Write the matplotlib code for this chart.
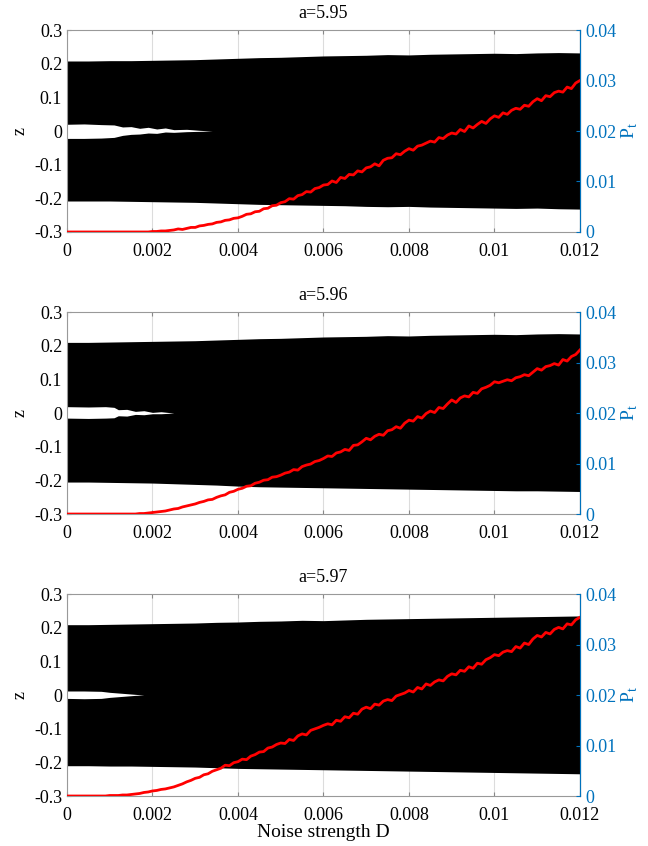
import numpy as np
import matplotlib
matplotlib.use("Agg")
import matplotlib.pyplot as plt

plt.rcParams['font.family'] = ['Liberation Serif', 'DejaVu Serif']
plt.rcParams['mathtext.fontset'] = 'custom'
plt.rcParams['mathtext.rm'] = 'Liberation Serif'
plt.rcParams['axes.unicode_minus'] = False

# panel titles
a_vals = ['a=5.95', 'a=5.96', 'a=5.97']

# noise grid for the red P_t curves (step 0.0001)
d_grid = np.round(np.arange(0, 0.012001, 0.0001), 4)

# P_t
p_t = [
    [0] * 20 +
    [0.0001, 0.0001, 0.0002, 0.0002, 0.0003, 0.0004, 0.0006, 0.0005, 0.0007, 0.0009,
     0.0009, 0.0012, 0.0013, 0.0015, 0.0016, 0.0019, 0.0020, 0.0023, 0.0024, 0.0027,
     0.0028, 0.0031, 0.0035, 0.0036, 0.0040, 0.0041, 0.0046, 0.0047, 0.0052, 0.0053,
     0.0058, 0.0060, 0.0066, 0.0065, 0.0072, 0.0074, 0.0080, 0.0079, 0.0086, 0.0088,
     0.0093, 0.0094, 0.0101, 0.0098, 0.0108, 0.0106, 0.0114, 0.0113, 0.0121, 0.0119,
     0.0127, 0.0129, 0.0135, 0.0131, 0.0142, 0.0146, 0.0147, 0.0155, 0.0153, 0.0160,
     0.0165, 0.0162, 0.0170, 0.0172, 0.0176, 0.0180, 0.0178, 0.0187, 0.0185, 0.0192,
     0.0196, 0.0194, 0.0203, 0.0199, 0.0210, 0.0206, 0.0213, 0.0219, 0.0215, 0.0224,
     0.0230, 0.0227, 0.0236, 0.0233, 0.0241, 0.0245, 0.0243, 0.0251, 0.0249, 0.0258,
     0.0264, 0.0260, 0.0270, 0.0268, 0.0276, 0.0279, 0.0277, 0.0287, 0.0284, 0.0295,
     0.0300],
    [0] * 17 +
    [0.0001, 0.0001, 0.0002,
     0.0003, 0.0004, 0.0005, 0.0006, 0.0008, 0.0010, 0.0011, 0.0014, 0.0016, 0.0018,
     0.0020, 0.0023, 0.0025, 0.0028, 0.0029, 0.0033, 0.0036, 0.0038, 0.0043, 0.0045,
     0.0049, 0.0051, 0.0055, 0.0056, 0.0061, 0.0063, 0.0067, 0.0068, 0.0073, 0.0074,
     0.0077, 0.0081, 0.0083, 0.0088, 0.0087, 0.0094, 0.0097, 0.0099, 0.0104, 0.0106,
     0.0110, 0.0115, 0.0114, 0.0121, 0.0123, 0.0128, 0.0126, 0.0136, 0.0137, 0.0143,
     0.0150, 0.0147, 0.0154, 0.0158, 0.0156, 0.0165, 0.0167, 0.0173, 0.0170, 0.0180,
     0.0186, 0.0184, 0.0193, 0.0190, 0.0199, 0.0204, 0.0201, 0.0211, 0.0209, 0.0218,
     0.0226, 0.0221, 0.0230, 0.0234, 0.0232, 0.0241, 0.0239, 0.0248, 0.0251, 0.0255,
     0.0262, 0.0260, 0.0263, 0.0266, 0.0264, 0.0270, 0.0272, 0.0276, 0.0274, 0.0281,
     0.0288, 0.0285, 0.0292, 0.0294, 0.0298, 0.0295, 0.0306, 0.0303, 0.0312, 0.0316,
     0.0325],
    [0] * 10 +
    [0.0001, 0.0001, 0.0001, 0.0002, 0.0002, 0.0003, 0.0004, 0.0005, 0.0007, 0.0008,
     0.0010, 0.0011, 0.0013, 0.0014, 0.0016, 0.0018, 0.0021, 0.0024, 0.0028, 0.0031,
     0.0035, 0.0037, 0.0042, 0.0044, 0.0049, 0.0052, 0.0055, 0.0061, 0.0060, 0.0066,
     0.0068, 0.0073, 0.0072, 0.0079, 0.0082, 0.0087, 0.0088, 0.0095, 0.0097, 0.0102,
     0.0105, 0.0104, 0.0112, 0.0110, 0.0119, 0.0123, 0.0121, 0.0130, 0.0133, 0.0136,
     0.0140, 0.0143, 0.0141, 0.0150, 0.0148, 0.0157, 0.0155, 0.0164, 0.0162, 0.0172,
     0.0176, 0.0173, 0.0182, 0.0180, 0.0188, 0.0191, 0.0189, 0.0198, 0.0201, 0.0204,
     0.0209, 0.0206, 0.0215, 0.0212, 0.0222, 0.0219, 0.0226, 0.0230, 0.0228, 0.0237,
     0.0242, 0.0240, 0.0249, 0.0247, 0.0256, 0.0253, 0.0263, 0.0261, 0.0270, 0.0274,
     0.0280, 0.0278, 0.0285, 0.0288, 0.0286, 0.0296, 0.0293, 0.0303, 0.0300, 0.0311,
     0.0318, 0.0315, 0.0324, 0.0321, 0.0330, 0.0334, 0.0331, 0.0341, 0.0339, 0.0349,
     0.0354],
]

# outer edges of the black z band (step 0.0005)
band_d = np.round(np.arange(0, 0.01201, 0.0005), 4)
band_top = [
    [0.208, 0.208, 0.209, 0.209, 0.210, 0.211, 0.212, 0.214, 0.216, 0.218, 0.219, 0.221, 0.223,
     0.224, 0.225, 0.227, 0.226, 0.228, 0.229, 0.230, 0.231, 0.230, 0.232, 0.233, 0.232],
    [0.210, 0.210, 0.211, 0.212, 0.213, 0.214, 0.215, 0.217, 0.219, 0.221, 0.222, 0.224, 0.226,
     0.227, 0.228, 0.230, 0.229, 0.231, 0.232, 0.233, 0.234, 0.233, 0.235, 0.236, 0.235],
    [0.209, 0.209, 0.210, 0.211, 0.212, 0.213, 0.214, 0.216, 0.217, 0.219, 0.220, 0.222, 0.221,
     0.223, 0.225, 0.226, 0.227, 0.228, 0.229, 0.230, 0.231, 0.232, 0.233, 0.234, 0.235],
]
band_bot = [
    [-0.208, -0.208, -0.208, -0.209, -0.210, -0.211, -0.212, -0.214, -0.216, -0.218, -0.219, -0.220,
     -0.221, -0.222, -0.224, -0.225, -0.224, -0.226, -0.227, -0.228, -0.229, -0.230, -0.229, -0.231, -0.232],
    [-0.205, -0.205, -0.206, -0.207, -0.208, -0.210, -0.212, -0.214, -0.217, -0.219, -0.220, -0.221,
     -0.222, -0.223, -0.224, -0.225, -0.226, -0.227, -0.228, -0.229, -0.230, -0.231, -0.231, -0.232, -0.233],
    [-0.210, -0.210, -0.211, -0.211, -0.212, -0.213, -0.214, -0.216, -0.218, -0.219, -0.220, -0.221,
     -0.222, -0.223, -0.224, -0.225, -0.226, -0.227, -0.228, -0.229, -0.230, -0.231, -0.232, -0.233, -0.234],
]

# white gap around z=0 at small noise
gap_d = [
    [0, 0.0004, 0.0008, 0.0011, 0.0013, 0.0015, 0.0017, 0.0019, 0.0021, 0.0023, 0.0025, 0.0028, 0.0031, 0.0034],
    [0, 0.0005, 0.0009, 0.0011, 0.0012, 0.0014, 0.0016, 0.0018, 0.0020, 0.0022, 0.0025],
    [0, 0.0004, 0.0008, 0.0010, 0.0012, 0.0014, 0.0016, 0.0018],
]
gap_top = [
    [0.020, 0.021, 0.019, 0.018, 0.012, 0.013, 0.008, 0.011, 0.006, 0.009, 0.004, 0.005, 0.002, 0],
    [0.019, 0.018, 0.019, 0.017, 0.010, 0.011, 0.005, 0.007, 0.002, 0.004, 0],
    [0.012, 0.012, 0.011, 0.008, 0.006, 0.004, 0.002, 0],
]
gap_bot = [
    [-0.022, -0.022, -0.021, -0.019, -0.013, -0.010, -0.009, -0.006, -0.007, -0.003, -0.004, -0.002, -0.001, 0],
    [-0.015, -0.016, -0.015, -0.014, -0.008, -0.009, -0.004, -0.005, -0.002, -0.002, 0],
    [-0.010, -0.011, -0.010, -0.007, -0.005, -0.003, -0.001, 0],
]

x_ticks = [0, 0.002, 0.004, 0.006, 0.008, 0.01, 0.012]
x_labels = ['0', '0.002', '0.004', '0.006', '0.008', '0.01', '0.012']
z_ticks = [-0.3, -0.2, -0.1, 0, 0.1, 0.2, 0.3]
z_labels = ['-0.3', '-0.2', '-0.1', '0', '0.1', '0.2', '0.3']
p_ticks = [0, 0.01, 0.02, 0.03, 0.04]
p_labels = ['0', '0.01', '0.02', '0.03', '0.04']

blue = (0, 0.447, 0.741)
fs = 13

fig = plt.figure(figsize=(6.48, 8.46), dpi=100)
bottoms = [0.7258, 0.3924, 0.0591]
height = 0.2387

for i in range(3):
    ax1 = fig.add_axes([0.1034, bottoms[i], 0.7916, height])
    ax1.set_axisbelow(True)
    ax1.grid(axis='x', color='#dcdcdc', lw=0.8)
    ax1.fill_between(band_d, band_bot[i], band_top[i], color='black', lw=0)
    ax1.fill_between(gap_d[i], gap_bot[i], gap_top[i], color='white', lw=0)
    ax1.set_xlim(0, 0.012)
    ax1.set_ylim(-0.3, 0.3)
    ax1.set_xticks(x_ticks)
    ax1.set_xticklabels(x_labels)
    ax1.set_yticks(z_ticks)
    ax1.set_yticklabels(z_labels)
    ax1.tick_params(direction='in', length=3, labelsize=fs, color='#888888', top=True)
    ax1.tick_params(axis='x', pad=8)
    ax1.set_ylabel('z', fontsize=fs, labelpad=4)
    ax1.set_title(a_vals[i], fontsize=fs, pad=9)
    for s in ['left', 'top', 'bottom']:
        ax1.spines[s].set_color('#999999')
        ax1.spines[s].set_linewidth(0.8)

    ax2 = ax1.twinx()
    ax2.plot(d_grid, p_t[i], color='red', lw=2.0)
    ax2.set_ylim(0, 0.04)
    ax2.set_yticks(p_ticks)
    ax2.set_yticklabels(p_labels)
    ax2.tick_params(direction='in', length=3, labelsize=fs, colors=blue, pad=4)
    ax2.spines['right'].set_color(blue)
    ax2.spines['right'].set_linewidth(0.8)
    for s in ['left', 'top', 'bottom']:
        ax2.spines[s].set_visible(False)
    ax2.set_ylabel(r'$\mathrm{P}_\mathrm{t}$', fontsize=fs + 1, color=blue, labelpad=2)

    if i == 2:
        ax1.set_xlabel('Noise strength D', fontsize=fs + 1, labelpad=0)

fig.savefig('out.png', dpi=100)
